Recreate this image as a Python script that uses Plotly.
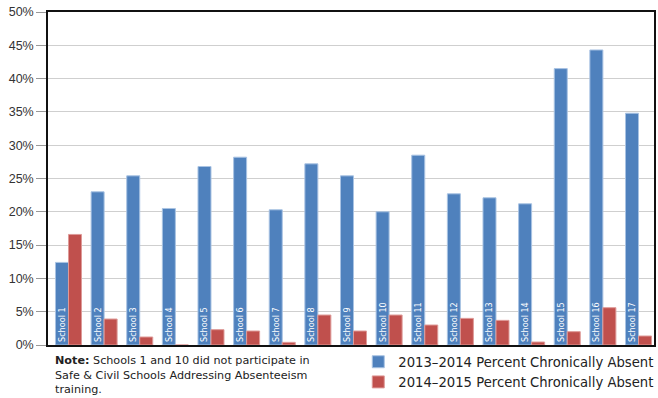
import plotly.graph_objects as go

schools = [f"School {i}" for i in range(1, 18)]
pct_2013_2014 = [12.4, 23.0, 25.4, 20.5, 26.8, 28.2, 20.3, 27.2, 25.4, 20.0, 28.5, 22.7, 22.1, 21.2, 41.5, 44.3, 34.8]
pct_2014_2015 = [16.6, 3.9, 1.2, 0.0, 2.3, 2.1, 0.4, 4.5, 2.1, 4.5, 3.0, 4.0, 3.7, 0.45, 2.0, 5.6, 1.35]
y_ticks = list(range(0, 55, 5))
series_names = ["2013\u20132014 Percent Chronically Absent", "2014\u20132015 Percent Chronically Absent"]

fig = go.Figure()
fig.add_trace(go.Bar(
    x=schools, y=pct_2013_2014, name=series_names[0],
    marker=dict(color="#4F81BD", line=dict(color="#A9C3E3", width=1)),
    text=schools, textposition="inside", insidetextanchor="start", textangle=-90,
    textfont=dict(family="DejaVu Sans Condensed, Liberation Sans Narrow, sans-serif", size=9, color="white"),
    cliponaxis=False,
))
fig.add_trace(go.Bar(
    x=schools, y=pct_2014_2015, name=series_names[1],
    marker=dict(color="#C0504D", line=dict(color="#DE9A98", width=1)),
))

fig.update_layout(
    width=658, height=398,
    margin=dict(l=48, r=4, t=12, b=53, autoexpand=False),
    paper_bgcolor="white", plot_bgcolor="white",
    barmode="group", bargap=0.27, bargroupgap=0,
    font=dict(family="Liberation Sans, Arial, sans-serif", color="#222"),
    showlegend=True,
    legend=dict(x=0.512, y=-0.005, xanchor="left", yanchor="top", orientation="v",
                font=dict(family="DejaVu Sans, sans-serif", size=13.2, color="#222"),
                bgcolor="rgba(0,0,0,0)", tracegroupgap=0, itemwidth=30),
    uniformtext=dict(minsize=9, mode="show"),
)
fig.update_xaxes(
    range=[-0.575, 16.435], showticklabels=False, ticks="",
    showline=True, linecolor="#111", linewidth=1.5, mirror=True, showgrid=False,
)
fig.update_yaxes(
    range=[0, 50], tickvals=y_ticks, ticktext=[f"{v}%" for v in y_ticks],
    ticks="outside", ticklen=10, tickcolor="#999", tickwidth=1,
    tickfont=dict(size=12.5, color="#333"),
    showgrid=True, gridcolor="#CFCFCF", gridwidth=1,
    showline=True, linecolor="#111", linewidth=1.5, mirror=True, zeroline=False,
)
fig.add_annotation(
    xref="paper", yref="paper", x=0.008, y=-0.02, xanchor="left", yanchor="top",
    align="left", showarrow=False,
    text="<b>Note:</b> Schools 1 and 10 did not participate in<br>Safe &amp; Civil Schools Addressing Absenteeism<br>training.",
    font=dict(family="DejaVu Sans, sans-serif", size=11.2, color="#222"),
)
fig.write_html("out.html")
